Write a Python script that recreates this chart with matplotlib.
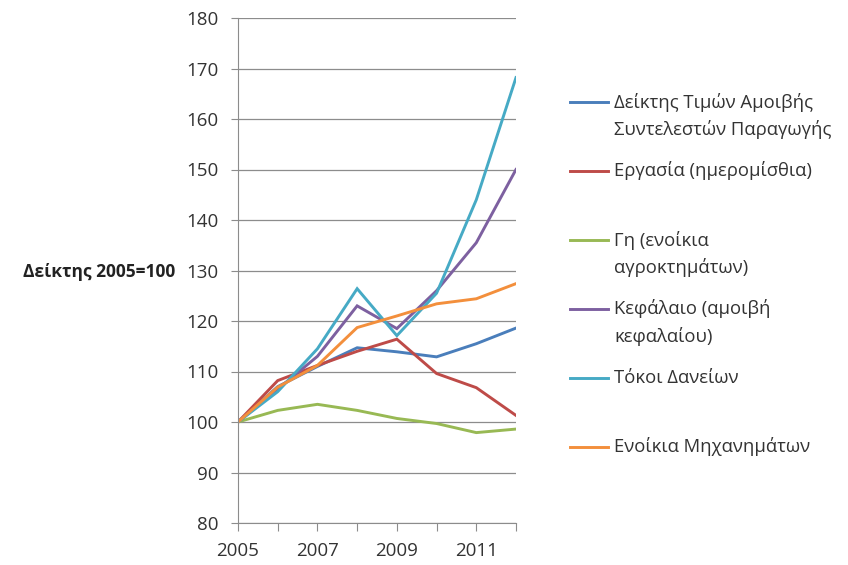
import matplotlib
matplotlib.use('Agg')
import matplotlib.pyplot as plt
from matplotlib.lines import Line2D

plt.rcParams['font.family'] = ['Open Sans', 'DejaVu Sans']

years = [2005, 2006, 2007, 2008, 2009, 2010, 2011, 2012]
index_total = [100, 107, 111, 114.7, 113.9, 112.9, 115.5, 118.6]
labour = [100, 108.2, 111.2, 114.0, 116.4, 109.6, 106.8, 101.3]
land = [100, 102.3, 103.5, 102.3, 100.7, 99.7, 97.9, 98.6]
capital = [100, 106.5, 113, 123, 118.5, 126, 135.5, 150]
interest = [100, 106, 114.5, 126.4, 117.1, 125.5, 144, 168.2]
machinery = [100, 106.9, 111.2, 118.7, 121.0, 123.4, 124.4, 127.4]

labels = ['Δείκτης Τιμών Αμοιβής\nΣυντελεστών Παραγωγής',
          'Εργασία (ημερομίσθια)',
          'Γη (ενοίκια\nαγροκτημάτων)',
          'Κεφάλαιο (αμοιβή\nκεφαλαίου)',
          'Τόκοι Δανείων',
          'Ενοίκια Μηχανημάτων']
series = [index_total, labour, land, capital, interest, machinery]
colors = ['#4A7EBB', '#BE4B48', '#98B954', '#7D60A0', '#46AAC5', '#F38F3C']

yticks = [80, 90, 100, 110, 120, 130, 140, 150, 160, 170, 180]
xticklabels = ['2005', '', '2007', '', '2009', '', '2011', '']

W, H = 848, 565
fig = plt.figure(figsize=(W / 100, H / 100), dpi=100)
ax = fig.add_axes([238 / W, 1 - 523 / H, (516 - 238) / W, (523 - 18) / H])

for vals, c in zip(series, colors):
    ax.plot(years, vals, color=c, lw=2.1, solid_joinstyle='miter')

ax.set_xlim(2005, 2012)
ax.set_ylim(80, 180)
ax.set_yticks(yticks)
ax.set_xticks(years)
ax.set_xticklabels(xticklabels)
ax.grid(axis='y', color='#8c8c8c', lw=0.9)
ax.set_axisbelow(True)
for s in ['top', 'right']:
    ax.spines[s].set_visible(False)
for s in ['left', 'bottom']:
    ax.spines[s].set_color('#8c8c8c')
ax.tick_params(axis='both', colors='#8c8c8c', labelcolor='#333333',
               labelsize=13.5)
ax.tick_params(axis='y', length=5, pad=9)
ax.tick_params(axis='x', length=6, pad=8)

fig.text(175 / W, 1 - 272 / H, 'Δείκτης 2005=100', ha='right', va='center',
         fontsize=12.5, fontweight='bold', color='#222222')

# legend drawn by hand so the line sits beside the first text line
for i, (lab, c) in enumerate(zip(labels, colors)):
    y = 1 - (102 + 69 * i) / H
    fig.add_artist(Line2D([570 / W, 608 / W], [y, y], color=c, lw=2.1))
    for j, line in enumerate(lab.split('\n')):
        fig.text(614 / W, y - j * 28 / H, line, ha='left', va='center',
                 fontsize=13.3, color='#333333')

fig.savefig('out.png', dpi=100)
